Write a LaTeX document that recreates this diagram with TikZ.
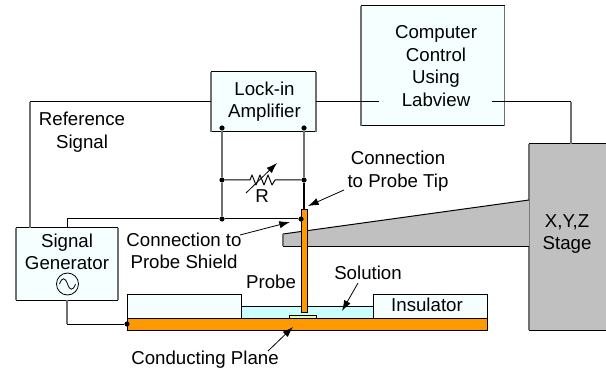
\documentclass[tikz,border=0pt]{standalone}
\usepackage{fontspec}
\setmainfont{Liberation Sans}
\usetikzlibrary{arrows.meta}
\definecolor{pale}{HTML}{F6FFFF}
\definecolor{sol}{HTML}{CCFFFF}
\definecolor{org}{HTML}{FF9900}
\definecolor{stagegray}{HTML}{C0C0C0}
\definecolor{vline}{HTML}{707070}
\definecolor{pad}{HTML}{DDFFBB}
\tikzset{
  x=0.75pt,y=-0.75pt,
  hw/.style={black,line width=0.75pt},
  vw/.style={vline,line width=0.9pt},
  solid box/.style={draw=black,line width=0.75pt,inner sep=0,outer sep=0,anchor=north west},
  lbl/.style={font=\fontsize{14}{16.9}\selectfont,align=center,inner sep=0},
  dot/.style={circle,fill=black,inner sep=0,minimum size=3.9pt},
  pointer/.style={black,line width=0.6pt,-{Latex[length=8pt,width=5.5pt]}}
}
\begin{document}
\begin{tikzpicture}
\useasboundingbox (0,0) rectangle (606,370);
\coordinate (refcorner) at (30,102);
\coordinate (shieldcorner) at (67,219);
\coordinate (gencorner) at (67,324);
\coordinate (stagecorner) at (571,102);
\coordinate (compstub) at (379,102);
\coordinate (compstubr) at (492,102);
\coordinate (genrefout) at (30,228);
\coordinate (gensigout) at (67,228);
\coordinate (genbot) at (67,300);
\coordinate (stagetop) at (571,144);
\coordinate (ampleft) at (211,102);
\coordinate (ampright) at (316,102);
% boxes
\node[solid box,fill=pale,draw=none,minimum width=143.5*0.75pt,minimum height=120*0.75pt] (comp) at (361,6) {};
\node[solid box,fill=pale,draw=none,minimum width=105*0.75pt,minimum height=60*0.75pt] (amp) at (211,72) {};
\node[solid box,fill=pale,draw=none,minimum width=102*0.75pt,minimum height=72*0.75pt] (gen) at (16,228) {};
\node[solid box,fill=stagegray,draw=none,minimum width=78*0.75pt,minimum height=186*0.75pt] (stage) at (529,144) {};
\foreach \n in {comp,amp,gen,stage}{
  \draw[hw] (\n.north west) -- (\n.north east);
  \draw[hw] (\n.south west) -- (\n.south east);
  \draw[vw] (\n.north west) -- (\n.south west);
  \draw[vw] (\n.north east) -- (\n.south east);
}
% connectors
\draw[hw] (refcorner) -- (ampleft);
\draw[vw] (refcorner) -- (genrefout);
\draw[hw] (ampright) -- (compstub);
\draw[hw] (compstubr) -- (stagecorner);
\draw[vw] (stagecorner) -- (stagetop);
% cantilever
\fill[stagegray] (283,234) -- (529,200) -- (529,246) -- (283,246) -- cycle;
\draw[hw] (529,200) -- (283,234);
\draw[vw] (283,234) -- (283,246);
\draw[hw] (283,246) -- (529,246);
% base
\node[solid box,fill=pale,minimum width=114*0.75pt,minimum height=24*0.75pt] (insL) at (127,294) {};
\node[solid box,fill=pale,minimum width=114*0.75pt,minimum height=24*0.75pt] (insR) at (373,294) {};
\node[solid box,fill=sol,minimum width=132*0.75pt,minimum height=12*0.75pt] (solbox) at (241,306) {};
\node[solid box,fill=pad,minimum width=27*0.75pt,minimum height=3*0.75pt] (padbox) at (289,315) {};
\node[solid box,fill=org,minimum width=360*0.75pt,minimum height=12*0.75pt] (plane) at (127,318) {};
\node[solid box,fill=org,minimum width=6*0.75pt,minimum height=102*0.75pt] (probe) at (301,210) {};
% dots
\node[dot] (d1) at (222,128) {};
\node[dot] (d2) at (304,128) {};
\node[dot] (d3) at (222,180) {};
\node[dot] (d4) at (304,180) {};
\node[dot] (d5) at (222,219) {};
\node[dot] (d6) at (301,219) {};
\node[dot] (d7) at (127,324) {};
\draw[vw] (d1) -- (d3);
\draw[vw] (d3) -- (d5);
\draw[vw] (d2) -- (d4);
\draw[black,line width=1pt] (d4) -- (probe.north -| d4);
\draw[hw] (gensigout) -- (shieldcorner) -- (d5) -- (d6);
\draw[vw] (genbot) -- (gencorner);
\draw[hw] (gencorner) -- (d7);
% resistor
\coordinate (rl) at (250,180);
\coordinate (rr) at (275,180);
\draw[hw,line join=round] (d3) -- (rl) -- (252,175) -- (256,185) -- (260,175) -- (264,185) -- (268,175) -- (272,185) -- (rr) -- (d4);
\coordinate (ra) at (246,193);
\coordinate (rb) at (277,163);
\draw[pointer] (ra) -- (rb);
% source symbol
\node[circle,draw=black,line width=0.6pt,inner sep=0,minimum size=16.5pt] (src) at (67.5,284) {};
\draw[line width=0.6pt] (59.5,284) .. controls (62,277) and (65,277) .. (67.5,284) .. controls (70,291) and (73,291) .. (75.5,284);
% labels
\node[lbl] (tcomp) at (436,66) {Computer\\Control\\Using\\Labview};
\node[lbl] (tamp) at (264.5,101.5) {Lock-in\\Amplifier};
\node[lbl] (tgen) at (67,252) {Signal\\Generator};
\node[lbl] (tref) at (82,132) {Reference\\Signal};
\node[lbl] (ttip) at (398,171) {Connection\\to Probe Tip};
\node[lbl] (tshield) at (184,251) {Connection to\\Probe Shield};
\node[lbl] (tprobe) at (271,282) {Probe};
\node[lbl] (tsol) at (368,273) {Solution};
\node[lbl] (tins) at (427,305) {Insulator};
\node[lbl] (tplane) at (205,360) {Conducting Plane};
\node[lbl] (tstage) at (567,234) {X,Y,Z\\Stage};
\node[lbl] (tr) at (262,196) {R};
% pointers
\coordinate (p1) at (344,190); \coordinate (p1e) at (308,206);
\coordinate (p2) at (240,235); \coordinate (p2e) at (290,222);
\coordinate (p3) at (268,351); \coordinate (p3e) at (293,327);
\coordinate (p4) at (358,283); \coordinate (p4e) at (342,311);
\draw[pointer] (p1) -- (p1e);
\draw[pointer] (p2) -- (p2e);
\draw[pointer] (p3) -- (p3e);
\draw[pointer] (p4) -- (p4e);
\end{tikzpicture}
\end{document}
